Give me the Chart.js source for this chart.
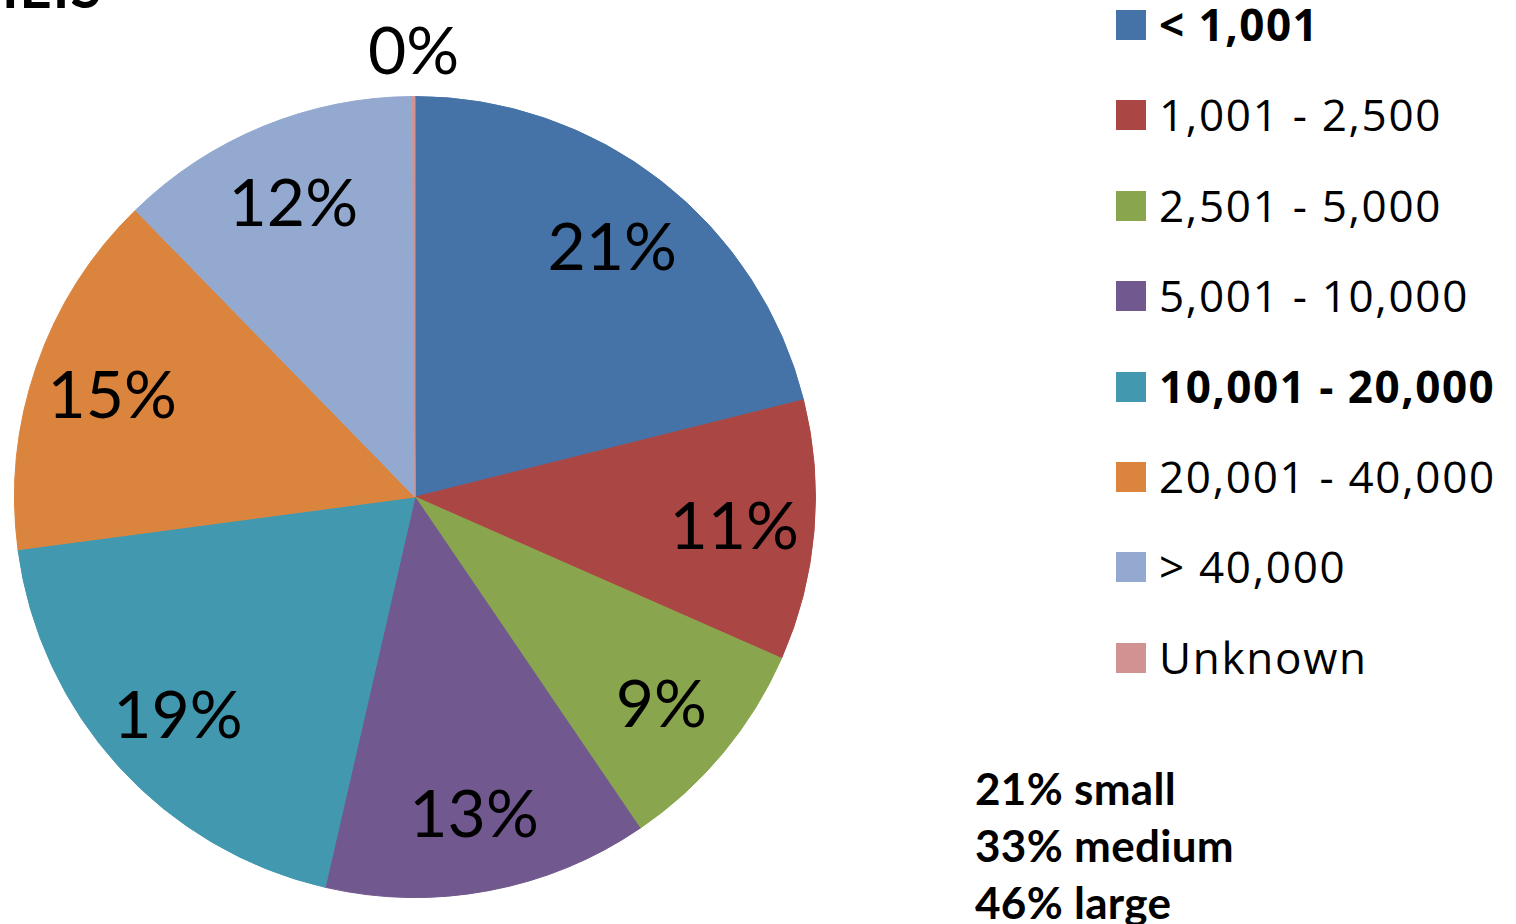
<!DOCTYPE html>
<html>
<head>
<meta charset="utf-8">
<title>Institution size</title>
<script src="https://cdn.jsdelivr.net/npm/chart.js@4"></script>
<style>
    html, body { margin: 0; padding: 0; background: #fff; }
    body { width: 1516px; height: 924px; position: relative; overflow: hidden; font-family: 'Open Sans', sans-serif; color: #000; }
    #pie-wrap { position: absolute; left: 0; top: 0; width: 830px; height: 924px; }
    #corner { position: absolute; left: 2px; top: -41px; font: bold 56px Lato, sans-serif; line-height: 56px; letter-spacing: 1px; }
    #legend { position: absolute; left: 1116px; top: 0; }
    .lg-row { position: absolute; left: 0; height: 40px; white-space: nowrap; }
    .lg-box { position: absolute; left: 0; top: 5px; width: 30px; height: 30px; }
    .lg-txt { position: absolute; left: 43px; top: -1px; font-size: 44px; line-height: 40px; letter-spacing: 1.7px; }
    .lg-txt.bold { font-weight: bold; letter-spacing: 1.5px; }
    #notes { position: absolute; left: 975px; top: 760px; font: bold 44px Lato, sans-serif; line-height: 57px; letter-spacing: 0.3px; }
</style>
</head>
<body>
<div id="corner">IEIS</div>
<div id="pie-wrap"><canvas id="pie" width="830" height="924"></canvas></div>
<div id="legend"></div>
<div id="notes"></div>

<script>
'use strict';

// ── Data ─────────────────────────────────────────────────────────────────────

const CATEGORIES = ['< 1,001', '1,001 - 2,500', '2,501 - 5,000', '5,001 - 10,000',
                    '10,001 - 20,000', '20,001 - 40,000', '> 40,000', 'Unknown'];
const SHARES     = [21.1, 10.5, 8.9, 13.1, 19.3, 14.8, 12.2, 0.1];   // percent
const COLORS     = ['#4572A7', '#AA4643', '#89A54E', '#71588F',
                    '#4198AF', '#DB843D', '#93A9CF', '#D19392'];
const BOLD_ITEMS = ['< 1,001', '10,001 - 20,000'];
const NOTES      = ['21% small', '33% medium', '46% large'];

// ── Slice labels ─────────────────────────────────────────────────────────────

const sliceLabels = {
    id: 'sliceLabels',
    afterDatasetsDraw(chart) {
        const ctx  = chart.ctx;
        const meta = chart.getDatasetMeta(0);
        ctx.save();
        ctx.font = '66px Lato, sans-serif';
        ctx.fillStyle = '#000';
        ctx.textAlign = 'center';
        ctx.textBaseline = 'middle';
        meta.data.forEach((arc, i) => {
            const p   = arc.getProps(['x', 'y', 'startAngle', 'endAngle', 'outerRadius'], true);
            const mid = (p.startAngle + p.endAngle) / 2;
            // tiny slices get their label pushed outside the pie
            const k   = SHARES[i] < 1 ? 1.12 : 0.8;
            const x   = p.x + Math.cos(mid) * p.outerRadius * k;
            const y   = p.y + Math.sin(mid) * p.outerRadius * k + 4;
            ctx.fillText(`${Math.round(SHARES[i])}%`, x, y);
        });
        ctx.restore();
    }
};

new Chart(document.getElementById('pie'), {
    type: 'pie',
    data: {
        labels: CATEGORIES,
        datasets: [{
            data: SHARES,
            backgroundColor: COLORS,
            borderColor: COLORS,
            borderWidth: 1,
        }]
    },
    options: {
        responsive: false,
        animation: false,
        devicePixelRatio: 1,
        layout: { padding: { left: 14, right: 14, top: 96, bottom: 26 } },
        plugins: {
            legend:  { display: false },
            tooltip: { enabled: false },
        }
    },
    plugins: [sliceLabels]
});

// ── Legend + notes ───────────────────────────────────────────────────────────

const legend = document.getElementById('legend');
CATEGORIES.forEach((name, i) => {
    const row = document.createElement('div');
    row.className = 'lg-row';
    row.style.top = `${5 + i * 90.4}px`;
    const bold = BOLD_ITEMS.includes(name) ? ' bold' : '';
    row.innerHTML = `<div class="lg-box" style="background:${COLORS[i]}"></div>` +
                    `<div class="lg-txt${bold}"></div>`;
    row.querySelector('.lg-txt').textContent = name;
    legend.appendChild(row);
});

document.getElementById('notes').innerHTML = NOTES.map(t => `<div>${t}</div>`).join('');
</script>
</body>
</html>
